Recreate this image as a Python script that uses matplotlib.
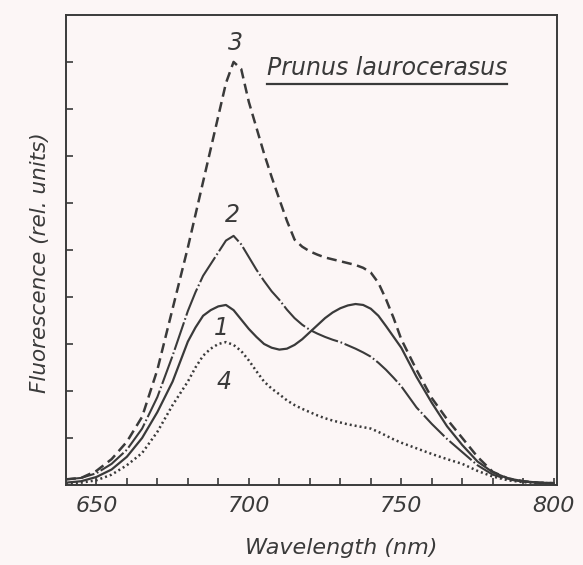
import matplotlib
matplotlib.use("Agg")
import matplotlib.pyplot as plt

# wavelength grid (nm) and the four fluorescence spectra
wl = [640, 645, 650, 655, 660, 665, 670, 675, 680, 682.5, 685, 687.5, 690,
      692.5, 695, 697.5, 700, 702.5, 705, 707.5, 710, 712.5, 715, 717.5, 720,
      722.5, 725, 727.5, 730, 732.5, 735, 737.5, 740, 742.5, 745, 747.5, 750,
      755, 760, 765, 770, 775, 780, 785, 790, 795, 800]

curve1 = [0.05, 0.08, 0.17, 0.33, 0.6, 1.0, 1.55, 2.2, 3.05, 3.35, 3.6, 3.72,
          3.8, 3.83, 3.72, 3.52, 3.32, 3.15, 3.0, 2.92, 2.88, 2.9, 2.98, 3.1,
          3.25, 3.4, 3.55, 3.67, 3.76, 3.82, 3.85, 3.83, 3.75, 3.6, 3.38, 3.15,
          2.92, 2.3, 1.75, 1.25, 0.85, 0.5, 0.27, 0.14, 0.08, 0.05, 0.04]

curve2 = [0.12, 0.15, 0.25, 0.45, 0.75, 1.2, 1.87, 2.75, 3.7, 4.1, 4.45, 4.7,
          4.95, 5.2, 5.3, 5.12, 4.85, 4.58, 4.34, 4.12, 3.94, 3.73, 3.55, 3.41,
          3.3, 3.22, 3.15, 3.09, 3.04, 2.97, 2.9, 2.82, 2.73, 2.6, 2.45, 2.28,
          2.1, 1.65, 1.3, 0.98, 0.7, 0.42, 0.22, 0.12, 0.07, 0.05, 0.04]

curve3 = [0.12, 0.15, 0.3, 0.55, 0.92, 1.45, 2.45, 3.75, 5.05, 5.75, 6.45, 7.15,
          7.85, 8.55, 9.0, 8.85, 8.15, 7.6, 7.05, 6.55, 6.08, 5.62, 5.22, 5.07,
          4.97, 4.9, 4.84, 4.8, 4.76, 4.72, 4.68, 4.62, 4.52, 4.3, 3.95, 3.55,
          3.1, 2.45, 1.85, 1.4, 1.0, 0.6, 0.28, 0.14, 0.08, 0.05, 0.04]

curve4 = [0.02, 0.05, 0.1, 0.22, 0.42, 0.68, 1.13, 1.7, 2.2, 2.5, 2.75, 2.9,
          3.0, 3.04, 2.98, 2.85, 2.65, 2.42, 2.2, 2.05, 1.93, 1.8, 1.7, 1.62,
          1.55, 1.48, 1.42, 1.37, 1.33, 1.29, 1.26, 1.23, 1.2, 1.13, 1.05, 0.97,
          0.9, 0.78, 0.66, 0.55, 0.45, 0.3, 0.18, 0.1, 0.06, 0.04, 0.03]

# curve number labels
labels = ["3", "2", "1", "4"]
label_x = [695.5, 694.5, 691, 692]
label_y = [9.4, 5.75, 3.35, 2.2]

ink = "#3a3a3a"
paper = "#fcf6f6"

fig = plt.figure(figsize=(5.83, 5.65), dpi=100, facecolor=paper)
ax = fig.add_axes([0.113, 0.1416, 0.842, 0.832], facecolor=paper)

ax.plot(wl, curve3, color=ink, linewidth=1.8, linestyle=(0, (4, 2.2)))
ax.plot(wl, curve2, color=ink, linewidth=1.5, linestyle=(0, (14, 1.3, 0.8, 1.3)))
ax.plot(wl, curve1, color=ink, linewidth=1.6, linestyle="-")
ax.plot(wl, curve4, color=ink, linewidth=1.8, linestyle=(0, (0.8, 1.2)))

for t, x, y in zip(labels, label_x, label_y):
    ax.text(x, y, t, fontsize=17, style="italic", color=ink,
            ha="center", va="center")

title = ax.text(706, 8.87, "Prunus laurocerasus", fontsize=17, style="italic",
                color=ink, ha="left", va="center")

ax.set_xlim(640, 801)
ax.set_ylim(0, 10)
ax.set_xticks([650, 700, 750, 800])
ax.set_xticks(range(660, 800, 10), minor=True)
ax.set_yticks(range(1, 10))
ax.set_yticklabels([])
ax.tick_params(which="both", direction="in", length=5, width=1.2, color=ink)
ax.tick_params(axis="x", which="major", labelsize=16, pad=8, labelcolor=ink)
for lab in ax.get_xticklabels():
    lab.set_style("italic")
for s in ax.spines.values():
    s.set_color(ink)
    s.set_linewidth(1.4)

fig.text(0.585, 0.030, "Wavelength (nm)", fontsize=16, style="italic",
         color=ink, ha="center", va="center")
fig.text(0.069, 0.536, "Fluorescence (rel. units)", fontsize=15.5, style="italic",
         color=ink, ha="center", va="center", rotation=90)

# underline the species name using its drawn extent
fig.canvas.draw()
bb = title.get_window_extent().transformed(ax.transData.inverted())
ax.plot([bb.x0, bb.x1], [bb.y0 - 0.08, bb.y0 - 0.08], color=ink, linewidth=1.6)

fig.savefig("out.png", dpi=100, facecolor=paper)
